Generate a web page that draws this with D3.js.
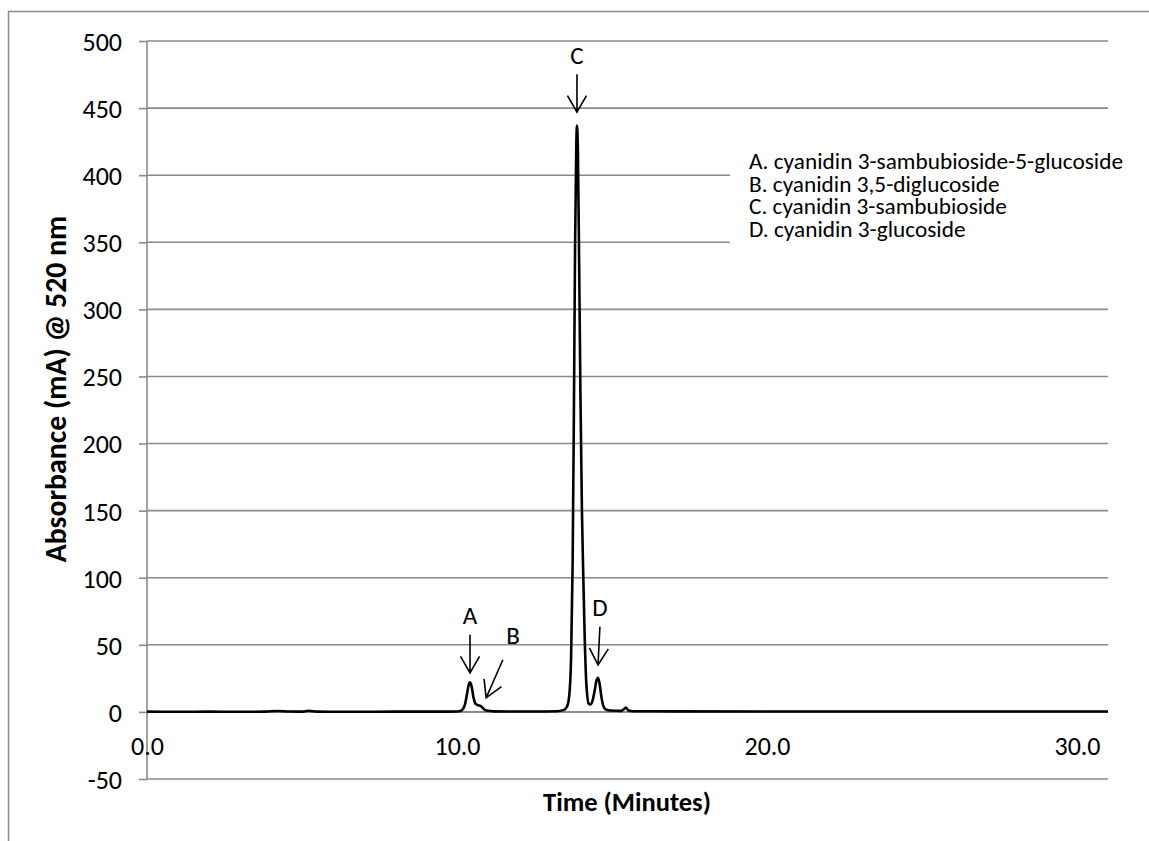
<!DOCTYPE html>
<html><head><meta charset="utf-8">
<script src="https://cdn.jsdelivr.net/npm/d3@7"></script>
<style>
body{margin:0;background:#fff}
text{font-family: Carlito, Lato, "Open Sans", sans-serif; fill:#000}
</style>
</head><body>
<svg id="c" width="1149" height="841"></svg>
<script>
// ---- data ----
const times = [0.0,1.0,2.0,3.0,3.8,4.2,4.6,5.0,5.2,5.5,6.5,8.0,9.5,10.0,10.15,10.25,10.32,10.37,10.42,10.47,10.53,10.60,10.68,10.76,10.85,10.95,11.2,12.5,13.2,13.45,13.55,13.62,13.68,13.73,13.77,13.81,13.85,13.87,13.90,13.94,13.98,14.03,14.07,14.12,14.17,14.25,14.30,14.38,14.45,14.50,14.55,14.60,14.66,14.72,14.80,14.95,15.30,15.40,15.45,15.52,15.7,17.0,20.0,25.0,31.0];
const absorbance = [0.2,0.1,0.2,0.1,0.2,0.7,0.3,0.2,0.9,0.2,0.1,0.2,0.2,0.3,1.2,5,13,19.5,22,19,11,6,5,4.5,2.5,1,0.4,0.3,0.5,1.5,4,12,40,110,220,350,425,437,418,335,240,150,105,55,22,6,5.5,9,17,23.5,25.5,21,11,4.5,1.8,1,0.8,2.5,3.2,1.2,0.5,0.4,0.3,0.3,0.3];
const yTicks = [-50,0,50,100,150,200,250,300,350,400,450,500];
const xTicks = [0,10,20,30];
const xTickLabels = ["0.0","10.0","20.0","30.0"];
const peakLabels = ["A","B","C","D"];
const labelTime = [10.42,11.81,13.87,14.61];
const labelValue = [65.8,50.8,482.8,71.7];
const arrowTailTime = [10.42,11.48,13.87,14.61];
const arrowTailValue = [57.5,38.9,475.3,63.5];
const arrowTipTime = [10.42,10.94,13.87,14.55];
const arrowTipValue = [29.1,10.5,447,35.1];
const legendItems = ["A. cyanidin 3-sambubioside-5-glucoside","B. cyanidin 3,5-diglucoside","C. cyanidin 3-sambubioside","D. cyanidin 3-glucoside"];
const xTitle = "Time (Minutes)";
const yTitle = "Absorbance (mA) @ 520 nm";

// ---- chart ----
const svg = d3.select("#c");
const gray = "#8a8a8a";
const FONT = "Carlito, Lato, sans-serif";
const L = 147, R = 1108, T = 41, B = 779;
const x = d3.scaleLinear().domain([0,31]).range([L,R]);
const y = d3.scaleLinear().domain([-50,500]).range([B,T]);

// outer frame
svg.append("rect").attr("x",8.5).attr("y",11.5).attr("width",1300).attr("height",900)
  .attr("fill","none").attr("stroke",gray).attr("stroke-width",1.5);

// gridlines
svg.append("g").selectAll("line").data(yTicks).join("line")
  .attr("x1",L).attr("x2",R).attr("y1",d=>y(d)).attr("y2",d=>y(d))
  .attr("stroke",gray).attr("stroke-width",1.6);

// y axis
const ya = svg.append("g").attr("transform",`translate(${L},0)`)
  .call(d3.axisLeft(y).tickValues(yTicks).tickSize(8).tickPadding(17).tickFormat(d=>String(d)));
ya.select(".domain").attr("stroke",gray).attr("stroke-width",1.6).attr("d",`M0,${T}V${B}`);
ya.selectAll(".tick line").attr("stroke",gray).attr("stroke-width",1.6);
ya.selectAll(".tick text").attr("font-size",26).attr("font-family",FONT).attr("fill","#000").attr("dy","0.36em");

// x axis at zero
const xa = svg.append("g").attr("transform",`translate(0,${y(0)})`)
  .call(d3.axisBottom(x).tickValues(xTicks).tickSize(0).tickFormat((d,i)=>xTickLabels[i]));
xa.select(".domain").attr("stroke",gray).attr("stroke-width",1.6).attr("d",`M${L},0H${R}`);
xa.selectAll(".tick text").attr("font-size",26).attr("font-family",FONT).attr("fill","#000").attr("y",43).attr("dy",0);

// legend box covering gridlines
svg.append("rect").attr("x",730).attr("y",146).attr("width",419).attr("height",122).attr("fill","#fff");
svg.append("g").selectAll("text").data(legendItems).join("text")
  .attr("x",749).attr("y",(d,i)=>169+i*22.6).attr("font-size",23.3).text(d=>d);

// data line
const pts = times.map((t,i)=>[t,absorbance[i]]);
svg.append("path").datum(pts)
  .attr("fill","none").attr("stroke","#000").attr("stroke-width",2.6).attr("stroke-linejoin","round")
  .attr("d", d3.line().x(d=>x(d[0])).y(d=>y(d[1])).curve(d3.curveMonotoneX));

// peak annotations
const ann = svg.append("g");
peakLabels.forEach((lab,i)=>{
  ann.append("text").attr("x",x(labelTime[i])).attr("y",y(labelValue[i]))
    .attr("text-anchor","middle").attr("font-size",25).text(lab);
  const x1=x(arrowTailTime[i]), y1=y(arrowTailValue[i]), x2=x(arrowTipTime[i]), y2=y(arrowTipValue[i]);
  const ang=Math.atan2(y2-y1,x2-x1), len=19, sp=Math.PI/6;
  ann.append("path")
    .attr("d",`M${x1},${y1}L${x2},${y2}M${x2-len*Math.cos(ang-sp)},${y2-len*Math.sin(ang-sp)}L${x2},${y2}L${x2-len*Math.cos(ang+sp)},${y2-len*Math.sin(ang+sp)}`)
    .attr("fill","none").attr("stroke","#000").attr("stroke-width",1.6);
});

// axis titles
svg.append("text").attr("x",627).attr("y",811).attr("text-anchor","middle")
  .attr("font-size",26.5).attr("font-weight","bold").text(xTitle);
svg.append("text").attr("transform","translate(66,389) rotate(-90)").attr("text-anchor","middle")
  .attr("font-size",29.8).attr("font-weight","bold").text(yTitle);
</script>
</body></html>
